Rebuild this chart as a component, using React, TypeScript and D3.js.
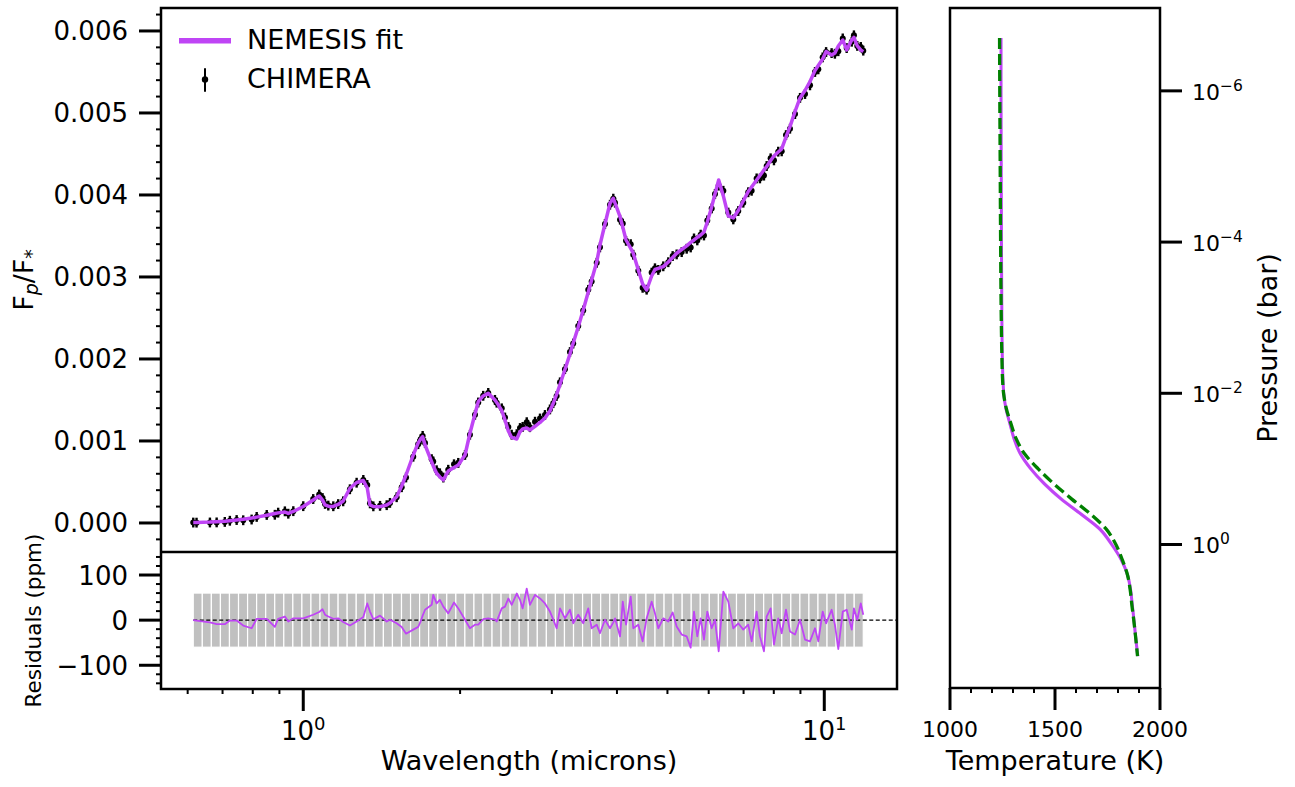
import * as d3 from "d3";

// CHIMERA spectrum, fit and residuals in ppm
const wavelengths = [
  0.615, 0.624, 0.662, 0.682, 0.707, 0.723, 0.745, 0.767, 0.796, 0.814,
  0.851, 0.882, 0.895, 0.922, 0.936, 0.957, 1.0, 1.045, 1.073, 1.089,
  1.101, 1.117, 1.142, 1.167, 1.193, 1.229, 1.266, 1.304, 1.327, 1.343,
  1.363, 1.404, 1.446, 1.467, 1.511, 1.545, 1.575, 1.626, 1.662, 1.68,
  1.695, 1.713, 1.764, 1.776, 1.803, 1.829, 1.857, 1.898, 1.947, 1.984,
  2.044, 2.089, 2.136, 2.167, 2.215, 2.265, 2.333, 2.351, 2.404, 2.439,
  2.475, 2.512, 2.569, 2.606, 2.637, 2.685, 2.723, 2.785, 2.847, 2.91,
  2.975, 3.019, 3.064, 3.11, 3.179, 3.25, 3.297, 3.371, 3.446, 3.524,
  3.577, 3.658, 3.711, 3.794, 3.879, 3.936, 3.966, 4.055, 4.104, 4.164,
  4.251, 4.299, 4.396, 4.481, 4.561, 4.663, 4.732, 4.802, 4.909, 5.019,
  5.117, 5.208, 5.325, 5.444, 5.541, 5.623, 5.705, 5.791, 5.876, 5.963,
  6.08, 6.169, 6.271, 6.401, 6.543, 6.689, 6.838, 6.991, 7.146, 7.254,
  7.416, 7.525, 7.66, 7.752, 7.889, 8.006, 8.159, 8.284, 8.443, 8.594,
  8.787, 8.983, 9.184, 9.389, 9.598, 9.739, 9.929, 10.08, 10.33, 10.48,
  10.64, 10.85, 11.04, 11.29, 11.4, 11.57, 11.75, 11.88,
];

const fitPpm = [
  5, 5, 11, 16, 22, 28, 37, 45, 60, 71,
  95, 115, 123, 134, 116, 140, 201, 280, 329, 280,
  220, 204, 201, 226, 268, 423, 494, 518, 427, 220,
  201, 199, 220, 244, 321, 451, 585, 829, 976, 1024,
  1052, 951, 744, 695, 606, 561, 524, 634, 677, 707,
  829, 1094, 1329, 1479, 1549, 1582, 1500, 1470, 1372, 1256,
  1122, 1043, 1024, 1113, 1146, 1159, 1134, 1179, 1226, 1280,
  1366, 1460, 1567, 1689, 1872, 2061, 2195, 2390, 2598, 2817,
  2963, 3183, 3390, 3646, 3899, 3960, 3902, 3735, 3610, 3451,
  3348, 3289, 3085, 2915, 2841, 3012, 3091, 3104, 3126, 3183,
  3238, 3289, 3335, 3380, 3421, 3451, 3482, 3512, 3549, 3671,
  3854, 4012, 4183, 3988, 3744, 3720, 3811, 3927, 4043, 4098,
  4183, 4238, 4305, 4345, 4421, 4476, 4524, 4561, 4707, 4833,
  5018, 5183, 5274, 5384, 5518, 5579, 5659, 5750, 5707, 5732,
  5817, 5890, 5768, 5890, 5921, 5817, 5768, 5748,
];

const residualPpm = [
  0, -1, -5, -9, -9, -1, -1, -12, -18, 3,
  3, -15, 3, 8, -3, 4, 4, 12, 18, 24,
  12, 8, 3, 4, -4, -12, -3, 7, 37, 19,
  2, 10, -3, 1, -7, -15, -30, -21, -15, -3,
  10, 23, 34, 56, 37, 45, 30, 15, 39, 26,
  1, -18, -10, -10, 2, 4, 1, -3, 26, 30,
  48, 34, 59, 45, 26, 70, 34, 56, 48, 37,
  19, 1, -18, 26, 4, 23, -7, 12, -7, 26,
  -18, -10, -29, 1, -18, -5, 4, -36, 41, -10,
  52, -18, -10, -47, 4, 41, 15, -18, 4, -3,
  17, -14, -32, -36, -61, 19, -36, 4, -43, 19,
  -18, 1, -69, 63, 41, -18, -7, -21, -10, -47,
  19, -36, -69, 8, 26, -54, 4, -29, 23, -25,
  -32, 1, -43, -47, -18, -47, 19, -7, 23, -10,
  -64, 19, 23, -21, 26, 1, 37, 12,
];

const dataErrorPpm = 60;

// grey uncertainty band in the residual panel
const bandStart = 0.615;
const bandEnd = 11.88;
const bandCount = 74;

// temperature-pressure profile
const pressureBar = [
  2e-7, 1e-6, 1e-5, 1e-4, 1e-3, 3.16e-3, 6.31e-3, 1e-2, 1.58e-2, 2.51e-2,
  3.98e-2, 6.31e-2, 0.1, 0.158, 0.251, 0.398, 0.631, 1, 1.58, 2.51,
  3.98, 6.31, 10, 15.8, 30,
];
const tempRetrieved = [
  1243, 1243, 1244, 1245, 1247, 1249, 1252, 1256, 1266, 1285,
  1305, 1335, 1385, 1450, 1530, 1625, 1715, 1770, 1815, 1845,
  1860, 1868, 1876, 1883, 1894,
];
const tempSigma = [
  4, 4, 4, 4, 4, 5, 5, 5, 6, 7,
  8, 9, 10, 12, 13, 13, 12, 10, 8, 7,
  6, 6, 6, 7, 8,
];
const tempInput = [
  1236, 1237, 1239, 1241, 1244, 1247, 1250, 1255, 1268, 1290,
  1315, 1355, 1420, 1495, 1580, 1670, 1745, 1790, 1820, 1845,
  1858, 1866, 1875, 1883, 1893,
];

const fluxTicks = [0, 0.001, 0.002, 0.003, 0.004, 0.005, 0.006];
const residualTicks = [-100, 0, 100];
const wavelengthTicks = [1, 10];
const temperatureTicks = [1000, 1500, 2000];
const pressureTicks = [1e-6, 1e-4, 1e-2, 1];

const PURPLE = "#bf45f5";
const FONT = "DejaVu Sans";

const W = 1295;
const H = 787;
const mainL = 161, mainR = 897, mainT = 8, mainB = 552, resB = 689;
const tpL = 950, tpR = 1160, tpT = 8, tpB = 688;

const MAJOR = 22;
const MINOR = 5;

export default function App() {
  const xWave = d3.scaleLog().domain([0.5333, 13.79]).range([mainL, mainR]);
  const yFlux = d3.scaleLinear().domain([-0.000354, 0.00628]).range([mainB, mainT]);
  const yRes = d3.scaleLinear().domain([-152.6, 151]).range([resB, mainB]);
  const xTemp = d3.scaleLinear().domain([1000, 2000]).range([tpL, tpR]);
  const yPres = d3.scaleLog().domain([Math.pow(10, -7.096), Math.pow(10, 1.898)]).range([tpT, tpB]);

  const idx = d3.range(wavelengths.length);
  const dataFlux = idx.map((i) => (fitPpm[i] + residualPpm[i]) * 1e-6);

  const fitLine = d3
    .line<number>()
    .x((i) => xWave(wavelengths[i]))
    .y((i) => yFlux(fitPpm[i] * 1e-6));

  const resLine = d3
    .line<number>()
    .x((i) => xWave(wavelengths[i]))
    .y((i) => yRes(residualPpm[i]));

  const bandEdges = d3
    .range(bandCount + 1)
    .map((k) => bandStart * Math.pow(bandEnd / bandStart, k / bandCount));

  const pIdx = d3.range(pressureBar.length);
  const profileLine = (temps: number[]) =>
    d3
      .line<number>()
      .x((i) => xTemp(temps[i]))
      .y((i) => yPres(pressureBar[i]))
      .curve(d3.curveMonotoneY)(pIdx) || "";
  const profileBand =
    d3
      .area<number>()
      .y((i) => yPres(pressureBar[i]))
      .x0((i) => xTemp(tempRetrieved[i] - tempSigma[i]))
      .x1((i) => xTemp(tempRetrieved[i] + tempSigma[i]))
      .curve(d3.curveMonotoneY)(pIdx) || "";

  const fluxMinor = d3.range(-0.0002, 0.00621, 0.0002).filter(
    (v) => !fluxTicks.some((t) => Math.abs(t - v) < 1e-9)
  );
  const resMinor = d3.range(-140, 141, 20).filter((v) => v % 100 !== 0);
  const waveMinor = xWave.ticks().filter((v) => !wavelengthTicks.includes(v));
  const tempMinor = d3.range(1100, 2000, 100).filter((v) => v !== 1500);

  return (
    <svg
      width={W}
      height={H}
      style={{ position: "absolute", left: 0, top: 0, background: "#fff" }}
      fontFamily={FONT}
    >
      {/* ---------- main spectrum panel ---------- */}
      <g>
        {idx.map((i) => (
          <g key={i}>
            <line
              x1={xWave(wavelengths[i])}
              x2={xWave(wavelengths[i])}
              y1={yFlux(dataFlux[i] - dataErrorPpm * 1e-6)}
              y2={yFlux(dataFlux[i] + dataErrorPpm * 1e-6)}
              stroke="#000"
              strokeWidth={2.4}
            />
            <circle cx={xWave(wavelengths[i])} cy={yFlux(dataFlux[i])} r={3} fill="#000" />
          </g>
        ))}
        <path d={fitLine(idx) || ""} fill="none" stroke={PURPLE} strokeWidth={3.5} strokeLinejoin="round" />
      </g>

      {/* legend */}
      <g>
        <line x1={179} x2={231} y1={40.7} y2={40.7} stroke={PURPLE} strokeWidth={5.5} />
        <text x={247} y={49.3} fontSize={27}>NEMESIS fit</text>
        <line x1={205} x2={205} y1={68.3} y2={91.7} stroke="#000" strokeWidth={2} />
        <circle cx={205} cy={79.5} r={3.2} fill="#000" />
        <text x={247} y={88.3} fontSize={27}>CHIMERA</text>
      </g>

      {/* ---------- residual panel ---------- */}
      <g>
        {d3.range(bandCount).map((k) => (
          <rect
            key={k}
            x={xWave(bandEdges[k])}
            width={xWave(bandEdges[k + 1]) - xWave(bandEdges[k])}
            y={yRes(dataErrorPpm)}
            height={yRes(-dataErrorPpm) - yRes(dataErrorPpm)}
            fill="#c0c0c0"
            stroke="#fff"
            strokeWidth={1.2}
          />
        ))}
        <line
          x1={xWave(bandStart)}
          x2={mainR}
          y1={yRes(0)}
          y2={yRes(0)}
          stroke="#000"
          strokeWidth={1.1}
          strokeDasharray="4,2.5"
        />
        <path d={resLine(idx) || ""} fill="none" stroke={PURPLE} strokeWidth={1.8} strokeLinejoin="round" />
      </g>

      {/* frames */}
      <rect x={mainL} y={mainT} width={mainR - mainL} height={resB - mainT} fill="none" stroke="#000" strokeWidth={2.5} />
      <line x1={mainL} x2={mainR} y1={mainB} y2={mainB} stroke="#000" strokeWidth={2.5} />

      {/* main y axis */}
      <g>
        {fluxTicks.map((t) => (
          <g key={t}>
            <line x1={mainL - MAJOR} x2={mainL} y1={yFlux(t)} y2={yFlux(t)} stroke="#000" strokeWidth={3} />
            <text x={mainL - 33} y={yFlux(t) + 9.5} fontSize={26} textAnchor="end">
              {t.toFixed(3)}
            </text>
          </g>
        ))}
        {fluxMinor.map((t) => (
          <line key={t} x1={mainL - MINOR} x2={mainL} y1={yFlux(t)} y2={yFlux(t)} stroke="#000" strokeWidth={2} />
        ))}
      </g>

      {/* residual y axis */}
      <g>
        {residualTicks.map((t) => (
          <g key={t}>
            <line x1={mainL - MAJOR} x2={mainL} y1={yRes(t)} y2={yRes(t)} stroke="#000" strokeWidth={3} />
            <text x={mainL - 33} y={yRes(t) + 9.5} fontSize={26} textAnchor="end">
              {t < 0 ? `\u2212${Math.abs(t)}` : `${t}`}
            </text>
          </g>
        ))}
        {resMinor.map((t) => (
          <line key={t} x1={mainL - MINOR} x2={mainL} y1={yRes(t)} y2={yRes(t)} stroke="#000" strokeWidth={2} />
        ))}
      </g>

      {/* wavelength axis */}
      <g>
        {wavelengthTicks.map((t) => (
          <g key={t}>
            <line x1={xWave(t)} x2={xWave(t)} y1={resB} y2={resB + MAJOR} stroke="#000" strokeWidth={3} />
            <text x={xWave(t)} y={740} fontSize={26} textAnchor="middle">
              <tspan>10</tspan>
              <tspan fontSize={18} dy={-10}>{Math.round(Math.log10(t))}</tspan>
            </text>
          </g>
        ))}
        {waveMinor.map((t) => (
          <line key={t} x1={xWave(t)} x2={xWave(t)} y1={resB} y2={resB + MINOR} stroke="#000" strokeWidth={2} />
        ))}
      </g>

      {/* axis labels, left */}
      <text transform={`translate(32.5, ${(mainT + mainB) / 2}) rotate(-90)`} fontSize={27} textAnchor="middle">
        <tspan>F</tspan>
        <tspan fontSize={19} fontStyle="italic" dy={5}>p</tspan>
        <tspan dy={-5}>/F</tspan>
        <tspan fontSize={19} dy={5}>*</tspan>
      </text>
      <text transform={`translate(41, ${(mainB + resB) / 2}) rotate(-90)`} fontSize={21.5} textAnchor="middle">
        Residuals (ppm)
      </text>
      <text x={(mainL + mainR) / 2} y={770} fontSize={27} textAnchor="middle">
        Wavelength (microns)
      </text>

      {/* ---------- temperature-pressure panel ---------- */}
      <g>
        <path d={profileBand} fill={PURPLE} fillOpacity={0.25} stroke="none" />
        <path d={profileLine(tempRetrieved)} fill="none" stroke={PURPLE} strokeWidth={3} />
        <path
          d={profileLine(tempInput)}
          fill="none"
          stroke="#008000"
          strokeWidth={3.3}
          strokeDasharray="11,5"
        />
      </g>
      <rect x={tpL} y={tpT} width={tpR - tpL} height={tpB - tpT} fill="none" stroke="#000" strokeWidth={2.5} />

      {/* temperature axis */}
      <g>
        {temperatureTicks.map((t) => (
          <g key={t}>
            <line x1={xTemp(t)} x2={xTemp(t)} y1={tpB} y2={tpB + MAJOR} stroke="#000" strokeWidth={3} />
            <text x={xTemp(t)} y={736.5} fontSize={22} textAnchor="middle">
              {t}
            </text>
          </g>
        ))}
        {tempMinor.map((t) => (
          <line key={t} x1={xTemp(t)} x2={xTemp(t)} y1={tpB} y2={tpB + MINOR} stroke="#000" strokeWidth={2} />
        ))}
      </g>

      {/* pressure axis, on the right */}
      <g>
        {pressureTicks.map((t) => {
          const e = Math.round(Math.log10(t));
          return (
            <g key={t}>
              <line x1={tpR} x2={tpR + MAJOR} y1={yPres(t)} y2={yPres(t)} stroke="#000" strokeWidth={3} />
              <text x={tpR + 32} y={yPres(t) + 9} fontSize={22}>
                <tspan>10</tspan>
                <tspan fontSize={15.5} dy={-9}>{e < 0 ? `\u2212${Math.abs(e)}` : `${e}`}</tspan>
              </text>
            </g>
          );
        })}
      </g>

      <text x={(tpL + tpR) / 2} y={770} fontSize={27} textAnchor="middle">
        Temperature (K)
      </text>
      <text transform={`translate(1276.5, ${(tpT + tpB) / 2}) rotate(-90)`} fontSize={27} textAnchor="middle">
        Pressure (bar)
      </text>
    </svg>
  );
}
